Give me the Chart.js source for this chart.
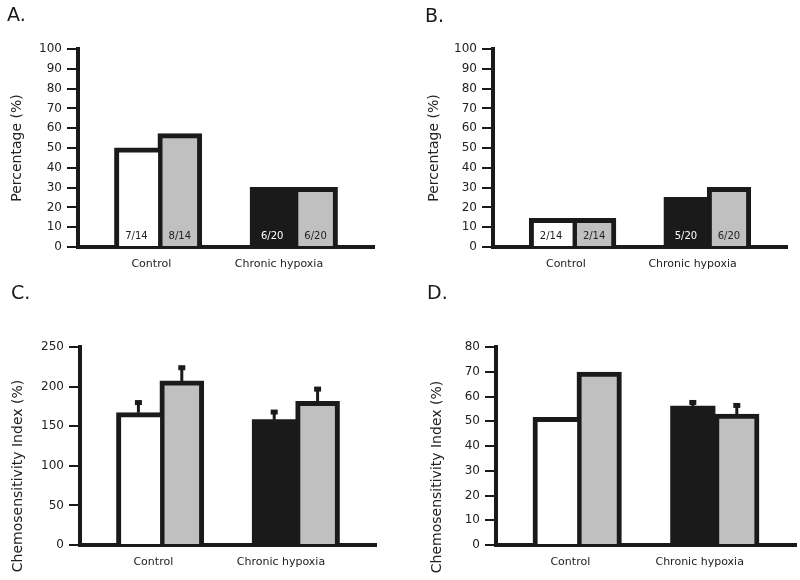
<!DOCTYPE html>
<html>

<head>
    <meta charset='utf-8'>
    <title>Percentage and chemosensitivity, control vs chronic hypoxia</title>
    <script src="https://cdn.jsdelivr.net/npm/chart.js@4.4.0/dist/chart.umd.min.js"></script>
    <style>
        body { margin: 0; background: #fff; font-family: 'DejaVu Sans', sans-serif; }
        canvas { position: absolute; display: block; }
        .letter { position: absolute; font-size: 19px; line-height: 19px; color: #1a1a1a; }
    </style>
</head>

<body>
    <canvas id="chartA" width="400" height="290" style="left:0;top:0"></canvas>
    <canvas id="chartB" width="400" height="290" style="left:400px;top:0"></canvas>
    <canvas id="chartC" width="400" height="290" style="left:0;top:290px"></canvas>
    <canvas id="chartD" width="400" height="290" style="left:400px;top:290px"></canvas>
    <div class="letter" style="left:7px;top:5px">A.</div>
    <div class="letter" style="left:425px;top:6px">B.</div>
    <div class="letter" style="left:11px;top:283px">C.</div>
    <div class="letter" style="left:427px;top:283px">D.</div>
    <script>
        const categories = ['Control', 'Chronic hypoxia'];

        // A. percentage of cells (first bar / second bar of each group)
        const pctA1 = [50, 30];
        const pctA2 = [57.1, 30];
        const countA1 = ['7/14', '6/20'];
        const countA2 = ['8/14', '6/20'];

        // B.
        const pctB1 = [14.3, 25];
        const pctB2 = [14.3, 30];
        const countB1 = ['2/14', '5/20'];
        const countB2 = ['2/14', '6/20'];

        // C. chemosensitivity index, mean and SEM
        const chemoC1 = [167, 158];
        const chemoC2 = [207, 181];
        const semC1 = [16, 13];
        const semC2 = [20, 19];

        // D.
        const chemoD1 = [51.5, 56];
        const chemoD2 = [69.8, 52.8];
        const semD1 = [null, 2.6];
        const semD2 = [null, 4.6];

        const INK = '#1a1a1a';
        const TEXT = '#222222';
        const WHITE = '#ffffff';
        const BLACK = '#1a1a1a';
        const GREY = '#c0c0c0';
        const FONT = "'DejaVu Sans', sans-serif";
        const EDGE = 5;
        // where the two category labels sit on the x axis (in group units)
        const labelAt = [-0.05, 0.89];

        const marks = p => ({
            id: 'marks',
            afterDatasetsDraw(chart) {
                const c = chart.ctx, y = chart.scales.y;
                const zero = y.getPixelForValue(0);
                chart.data.datasets.forEach((ds, d) => {
                    chart.getDatasetMeta(d).data.forEach((bar, i) => {
                        if (ds.errors && ds.errors[i] != null) {
                            const top = y.getPixelForValue(ds.data[i].y + ds.errors[i]);
                            c.save();
                            c.strokeStyle = INK;
                            c.lineWidth = 3;
                            c.beginPath();
                            c.moveTo(bar.x, bar.y);
                            c.lineTo(bar.x, top + 2);
                            c.stroke();
                            c.fillStyle = INK;
                            c.fillRect(bar.x - 3.5, top, 7, 5);
                            c.restore();
                        }
                        if (ds.counts) {
                            const fill = Array.isArray(ds.backgroundColor) ? ds.backgroundColor[i] : ds.backgroundColor;
                            c.save();
                            c.fillStyle = fill === BLACK ? '#ffffff' : TEXT;
                            c.font = '10px ' + FONT;
                            c.textAlign = 'center';
                            c.textBaseline = 'middle';
                            c.fillText(ds.counts[i], bar.x, zero - 11);
                            c.restore();
                        }
                    });
                });
            },
            afterDraw(chart) {
                const c = chart.ctx;
                c.save();
                c.translate(p.titleX, p.titleY);
                c.rotate(-Math.PI / 2);
                c.fillStyle = TEXT;
                c.font = '14px ' + FONT;
                c.textAlign = 'center';
                c.textBaseline = 'middle';
                c.fillText(p.title, 0, 0);
                c.restore();
            }
        });

        function drawPanel(id, p) {
            const ctx = document.getElementById(id).getContext('2d');
            return new Chart(ctx, {
                type: 'bar',
                data: {
                    datasets: [{
                        data: categories.map((c, i) => ({ x: i, y: p.first[i] })),
                        backgroundColor: [WHITE, BLACK],
                        borderColor: INK,
                        // the black bar needs no outline of its own
                        borderWidth: c => c.dataIndex === 1 ? 0 : { top: EDGE, left: EDGE, right: 0, bottom: 0 },
                        inflateAmount: 0.6,
                        counts: p.firstCounts,
                        errors: p.firstErr
                    }, {
                        data: categories.map((c, i) => ({ x: i, y: p.second[i] })),
                        backgroundColor: GREY,
                        borderColor: INK,
                        borderWidth: { top: EDGE, left: EDGE, right: EDGE, bottom: 0 },
                        inflateAmount: 0.6,
                        counts: p.secondCounts,
                        errors: p.secondErr
                    }]
                },
                options: {
                    responsive: false,
                    animation: false,
                    categoryPercentage: 0.68,
                    barPercentage: 1,
                    layout: { padding: { left: 0, top: p.top, right: 400 - p.right, bottom: 0 } },
                    scales: {
                        x: {
                            type: 'linear',
                            min: -0.59,
                            max: 1.59,
                            offset: false,
                            z: 1,
                            grid: { display: false, drawTicks: false },
                            border: { color: INK, width: 4 },
                            afterBuildTicks: s => { s.ticks = labelAt.map(v => ({ value: v })); },
                            afterFit: s => { s.height = 290 - p.bottom; },
                            ticks: {
                                callback: (v, i) => categories[i],
                                color: TEXT,
                                font: { family: FONT, size: 11 },
                                padding: 11,
                                autoSkip: false,
                                maxRotation: 0
                            }
                        },
                        y: {
                            min: 0,
                            max: p.max,
                            z: 1,
                            afterFit: s => { s.width = p.left; },
                            grid: { drawOnChartArea: false, tickLength: 11, tickWidth: 2, tickColor: INK, lineWidth: 2, color: INK },
                            border: { color: INK, width: 4 },
                            ticks: { stepSize: p.step, padding: 5, color: TEXT, font: { family: FONT, size: 12 } }
                        }
                    },
                    plugins: {
                        legend: { display: false },
                        tooltip: { enabled: false }
                    }
                },
                plugins: [marks(p)]
            });
        }

        drawPanel('chartA', {
            first: pctA1, second: pctA2, firstCounts: countA1, secondCounts: countA2,
            max: 100, step: 10, title: 'Percentage (%)',
            left: 78, right: 374, top: 49, bottom: 247, titleX: 17, titleY: 148
        });
        drawPanel('chartB', {
            first: pctB1, second: pctB2, firstCounts: countB1, secondCounts: countB2,
            max: 100, step: 10, title: 'Percentage (%)',
            left: 93, right: 387, top: 49, bottom: 247, titleX: 34, titleY: 148
        });
        drawPanel('chartC', {
            first: chemoC1, second: chemoC2, firstErr: semC1, secondErr: semC2,
            max: 250, step: 50, title: 'Chemosensitivity Index (%)',
            left: 80, right: 376, top: 57, bottom: 255, titleX: 18, titleY: 186
        });
        drawPanel('chartD', {
            first: chemoD1, second: chemoD2, firstErr: semD1, secondErr: semD2,
            max: 80, step: 10, title: 'Chemosensitivity Index (%)',
            left: 96, right: 396, top: 57, bottom: 255, titleX: 37, titleY: 187
        });
    </script>
</body>

</html>
